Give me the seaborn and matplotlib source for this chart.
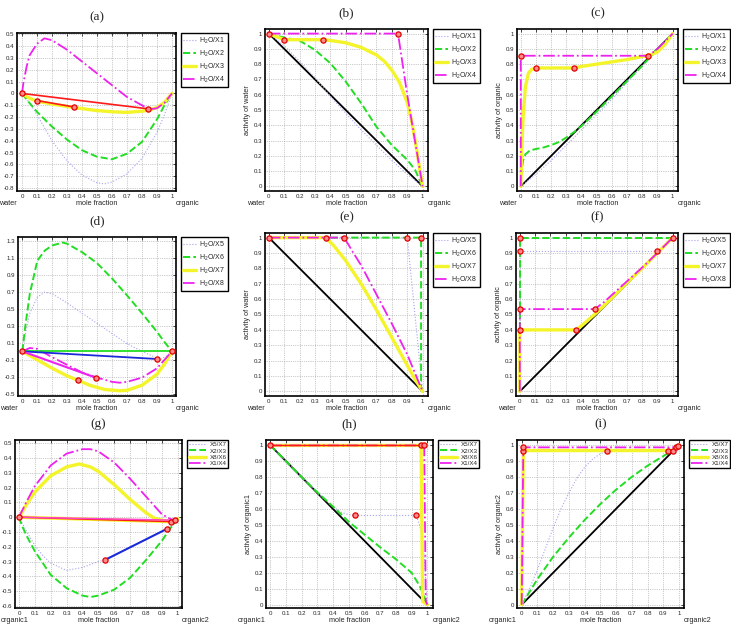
import matplotlib
matplotlib.use("Agg")
import matplotlib.pyplot as plt
import numpy as np
import pandas as pd
import seaborn as sns

FIG_W, FIG_H = 731, 635

# ---------------- data (x = mole fraction) ----------------
# (a) water / organic, Gibbs energy of mixing
A_X1 = [(0, 0), (0.05, -0.08), (0.1, -0.18), (0.15, -0.29), (0.2, -0.4), (0.3, -0.57), (0.4, -0.69),
        (0.5, -0.755), (0.55, -0.765), (0.6, -0.75), (0.7, -0.68), (0.8, -0.55), (0.9, -0.33),
        (0.95, -0.18), (1, 0)]
A_X2 = [(0, 0), (0.05, -0.08), (0.1, -0.155), (0.2, -0.28), (0.3, -0.39), (0.4, -0.48), (0.5, -0.535),
        (0.6, -0.557), (0.7, -0.51), (0.8, -0.41), (0.9, -0.22), (0.95, -0.1), (1, 0)]
A_X3 = [(0, 0), (0.05, -0.04), (0.1, -0.065), (0.2, -0.09), (0.35, -0.12), (0.5, -0.145), (0.6, -0.155),
        (0.7, -0.16), (0.8, -0.15), (0.85, -0.14), (0.9, -0.12), (0.95, -0.075), (1, 0)]
A_X4 = [(0, 0), (0.01, 0.09), (0.03, 0.22), (0.05, 0.32), (0.1, 0.42), (0.15, 0.466), (0.2, 0.45),
        (0.3, 0.37), (0.4, 0.27), (0.5, 0.17), (0.6, 0.07), (0.7, -0.03), (0.8, -0.1), (0.85, -0.135),
        (0.9, -0.125), (0.95, -0.08), (1, 0)]
A_TIES = [[(0, 0), (0.84, -0.13)], [(0.1, -0.06), (0.35, -0.115)]]
A_MARKS = [(0, 0), (0.84, -0.13), (0.1, -0.06), (0.35, -0.115)]

# (b) activity of water
B_X1 = [(0, 1), (0.1, 0.92), (0.2, 0.82), (0.3, 0.71), (0.4, 0.59), (0.5, 0.48), (0.6, 0.37),
        (0.7, 0.27), (0.8, 0.17), (0.9, 0.08), (1, 0)]
B_X2 = [(0, 1), (0.1, 0.974), (0.2, 0.954), (0.3, 0.893), (0.4, 0.806), (0.5, 0.686), (0.6, 0.545),
        (0.7, 0.39), (0.8, 0.27), (0.9, 0.174), (0.95, 0.11), (1, 0)]
B_X3 = [(0, 1), (0.1, 0.96), (0.35, 0.96), (0.4, 0.955), (0.5, 0.94), (0.6, 0.91), (0.7, 0.86),
        (0.75, 0.82), (0.8, 0.76), (0.85, 0.68), (0.9, 0.55), (0.93, 0.42), (0.96, 0.25),
        (0.98, 0.12), (1, 0)]
B_X4 = [(0, 1), (0.84, 1), (0.87, 0.8), (0.9, 0.6), (0.93, 0.42), (0.96, 0.24), (0.98, 0.12), (1, 0)]
B_MARKS = [(0, 1), (0.1, 0.96), (0.35, 0.96), (0.84, 1)]

# (c) activity of organic
C_X1 = [(0, 0), (0.1, 0.08), (0.2, 0.17), (0.3, 0.27), (0.4, 0.37), (0.5, 0.47), (0.6, 0.57),
        (0.7, 0.68), (0.8, 0.79), (0.9, 0.89), (1, 1)]
C_X2 = [(0, 0), (0.005, 0.1), (0.015, 0.17), (0.03, 0.21), (0.06, 0.235), (0.1, 0.245), (0.15, 0.255),
        (0.2, 0.27), (0.25, 0.29), (0.3, 0.32), (0.35, 0.355), (0.4, 0.395), (0.5, 0.49), (0.6, 0.59),
        (0.7, 0.69), (0.8, 0.79), (0.9, 0.9), (1, 1)]
C_X3 = [(0, 0), (0.005, 0.2), (0.015, 0.45), (0.03, 0.65), (0.05, 0.74), (0.07, 0.765), (0.1, 0.775),
        (0.35, 0.775), (0.4, 0.785), (0.5, 0.8), (0.6, 0.815), (0.7, 0.83), (0.8, 0.85), (0.85, 0.86),
        (0.9, 0.88), (0.95, 0.93), (1, 1)]
C_X4 = [(0, 0), (0, 0.855), (0.84, 0.855), (0.9, 0.9), (1, 1)]
C_MARKS = [(0, 0.855), (0.84, 0.855), (0.1, 0.775), (0.35, 0.775)]

# (d) water / organic, second set
D_X5 = [(0, 0), (0.02, 0.2), (0.05, 0.45), (0.1, 0.64), (0.15, 0.7), (0.2, 0.68), (0.3, 0.57),
        (0.4, 0.45), (0.5, 0.33), (0.6, 0.21), (0.7, 0.09), (0.8, 0.0), (0.9, -0.08), (0.93, -0.09),
        (0.96, -0.06), (1, 0)]
D_X6 = [(0, 0), (0.02, 0.3), (0.05, 0.68), (0.1, 1.07), (0.15, 1.19), (0.2, 1.25), (0.27, 1.285),
        (0.3, 1.27), (0.4, 1.17), (0.5, 1.04), (0.6, 0.86), (0.7, 0.66), (0.8, 0.45), (0.9, 0.23),
        (0.95, 0.11), (1, 0)]
D_X7 = [(0, 0), (0.1, -0.1), (0.2, -0.2), (0.3, -0.29), (0.37, -0.34), (0.45, -0.4), (0.55, -0.45),
        (0.65, -0.465), (0.7, -0.46), (0.8, -0.4), (0.9, -0.27), (0.95, -0.15), (1, 0)]
D_X8 = [(0, 0), (0.05, 0.04), (0.1, 0.03), (0.2, -0.07), (0.3, -0.16), (0.4, -0.25), (0.5, -0.31),
        (0.6, -0.36), (0.65, -0.37), (0.7, -0.36), (0.8, -0.31), (0.9, -0.2), (0.95, -0.1), (1, 0)]
D_TIE_GREEN = [(0, 0), (1, 0)]
D_TIE_BLUE = [(0, 0), (0.9, -0.09)]
D_TIE_MAGENTA = [(0, 0), (0.49, -0.31)]
D_MARKS = [(0, 0), (1, 0), (0.9, -0.09), (0.49, -0.31), (0.37, -0.34)]

# (e) activity of water
E_X5 = [(0, 1), (0.9, 1), (0.93, 0.7), (0.96, 0.4), (0.98, 0.2), (1, 0)]
E_X6 = [(0, 1), (0.99, 1), (0.99, 0.03), (1, 0)]
E_X7 = [(0, 1), (0.37, 1), (0.42, 0.95), (0.5, 0.85), (0.6, 0.7), (0.7, 0.53), (0.8, 0.35),
        (0.9, 0.17), (0.95, 0.08), (1, 0)]
E_X8 = [(0, 1), (0.49, 1), (0.55, 0.9), (0.6, 0.82), (0.7, 0.63), (0.8, 0.44), (0.9, 0.24),
        (0.95, 0.12), (1, 0)]
E_MARKS = [(0, 1), (0.37, 1), (0.49, 1), (0.9, 1), (0.99, 1)]

# (f) activity of organic
F_X5 = [(0, 0), (0, 0.91), (0.9, 0.91), (1, 1)]
F_X6 = [(0, 0), (0, 1), (1, 1)]
F_X7 = [(0, 0), (0, 0.4), (0.37, 0.4), (0.42, 0.44), (0.5, 0.51), (0.6, 0.605), (0.7, 0.705),
        (0.8, 0.8), (0.9, 0.9), (1, 1)]
F_X8 = [(0, 0), (0, 0.535), (0.49, 0.535), (0.55, 0.58), (0.6, 0.625), (0.65, 0.67), (0.7, 0.715),
        (0.8, 0.805), (0.9, 0.9), (1, 1)]
F_MARKS = [(0, 1), (0, 0.91), (0, 0.535), (0, 0.4), (0.37, 0.4), (0.49, 0.535), (0.9, 0.91), (1, 1)]

# (g) organic1 / organic2
G_X5X7_LEFT = [(0, 0), (0.05, -0.1), (0.1, -0.19), (0.15, -0.26), (0.2, -0.31), (0.3, -0.36),
               (0.4, -0.34), (0.5, -0.3), (0.54, -0.29)]
G_X5X7_RIGHT = [(0.93, -0.08), (0.96, -0.04), (0.98, -0.02), (1, -0.01)]
G_X2X3 = [(0, 0), (0.02, -0.06), (0.05, -0.13), (0.1, -0.23), (0.2, -0.39), (0.3, -0.48), (0.4, -0.53),
          (0.45, -0.54), (0.5, -0.53), (0.6, -0.49), (0.7, -0.41), (0.8, -0.29), (0.9, -0.16),
          (0.95, -0.08), (1, -0.01)]
G_X8X6 = [(0, 0), (0.05, 0.09), (0.1, 0.17), (0.2, 0.28), (0.3, 0.34), (0.38, 0.36), (0.45, 0.34),
          (0.5, 0.31), (0.6, 0.22), (0.7, 0.12), (0.8, 0.03), (0.85, -0.005), (0.9, -0.02),
          (0.96, -0.03), (1, -0.01)]
G_X1X4 = [(0, 0), (0.05, 0.11), (0.1, 0.21), (0.2, 0.35), (0.3, 0.43), (0.4, 0.46), (0.45, 0.46),
          (0.5, 0.445), (0.6, 0.37), (0.7, 0.26), (0.8, 0.14), (0.9, 0.02), (0.95, -0.01),
          (0.98, -0.02), (1, -0.01)]
G_TIE_YELLOW = [(0, 0), (0.96, -0.03)]
G_TIE_RED = [(0, 0), (0.96, -0.03)]
G_TIE_MAGENTA = [(0, 0), (0.98, -0.02)]
G_TIE_BLUE = [(0.54, -0.29), (0.93, -0.08)]
G_MARKS = [(0, 0), (0.54, -0.29), (0.93, -0.08), (0.96, -0.03), (0.98, -0.02)]

# (h) activity of organic1
H_X5X7 = [(0, 1), (0.1, 0.9), (0.2, 0.8), (0.3, 0.7), (0.4, 0.615), (0.45, 0.58), (0.5, 0.565),
          (0.54, 0.56), (0.93, 0.56), (0.95, 0.5), (0.97, 0.4), (0.98, 0.3), (0.99, 0.15), (1, 0)]
H_X2X3 = [(0, 1), (0.1, 0.9), (0.2, 0.8), (0.3, 0.705), (0.4, 0.615), (0.5, 0.52), (0.6, 0.44),
          (0.7, 0.36), (0.8, 0.285), (0.9, 0.2), (0.95, 0.12), (0.98, 0.05), (1, 0)]
H_X8X6 = [(0, 1), (0.96, 1), (0.965, 0.5), (0.97, 0.02), (1, 0)]
H_X1X4 = [(0, 1), (0.98, 1), (0.985, 0.5), (0.99, 0.02), (1, 0)]
H_TIE_RED = [(0, 1), (0.98, 1)]
H_MARKS = [(0, 1), (0.96, 1), (0.98, 1), (0.54, 0.56), (0.93, 0.56)]

# (i) activity of organic2
I_X5X7 = [(0, 0), (0.05, 0.1), (0.1, 0.22), (0.15, 0.35), (0.2, 0.48), (0.25, 0.6), (0.3, 0.7),
          (0.35, 0.79), (0.4, 0.86), (0.45, 0.91), (0.5, 0.945), (0.54, 0.96), (0.93, 0.96),
          (0.97, 0.975), (1, 1)]
I_X2X3 = [(0, 0), (0.05, 0.08), (0.1, 0.16), (0.2, 0.3), (0.3, 0.42), (0.4, 0.53), (0.5, 0.63),
          (0.6, 0.72), (0.7, 0.8), (0.8, 0.87), (0.9, 0.93), (0.95, 0.96), (1, 1)]
I_X8X6 = [(0, 0), (0.01, 0.965), (0.96, 0.965), (1, 1)]
I_X1X4 = [(0, 0), (0.01, 0.985), (0.98, 0.985), (1, 1)]
I_MARKS = [(0.01, 0.965), (0.01, 0.985), (0.54, 0.96), (0.93, 0.96), (0.96, 0.965), (0.98, 0.985),
           (0.995, 0.995)]

DIAG_DOWN = [(0, 1), (1, 0)]
DIAG_UP = [(0, 0), (1, 1)]

LEG_1_4 = ["H$_2$O/X1", "H$_2$O/X2", "H$_2$O/X3", "H$_2$O/X4"]
LEG_5_8 = ["H$_2$O/X5", "H$_2$O/X6", "H$_2$O/X7", "H$_2$O/X8"]
LEG_MIX = ["X5/X7", "X2/X3", "X8/X6", "X1/X4"]

X_TICKS = [0, 0.1, 0.2, 0.3, 0.4, 0.5, 0.6, 0.7, 0.8, 0.9, 1]
UNIT_TICKS = X_TICKS
A_TICKS = [-0.8, -0.7, -0.6, -0.5, -0.4, -0.3, -0.2, -0.1, 0, 0.1, 0.2, 0.3, 0.4, 0.5]
D_TICKS = [-0.5, -0.3, -0.1, 0.1, 0.3, 0.5, 0.7, 0.9, 1.1, 1.3]
G_TICKS = [-0.6, -0.5, -0.4, -0.3, -0.2, -0.1, 0, 0.1, 0.2, 0.3, 0.4, 0.5]

# ---------------- styles ----------------
S1 = dict(color="#a3a3ee", linestyle=":", linewidth=0.8)
S2 = dict(color="#22dd22", linestyle="--", linewidth=1.4)
S3 = dict(color="#f4f42a", linestyle="-", linewidth=2.4)
S4 = dict(color="#ee22ee", linestyle="-.", linewidth=1.3)
CURVE_STYLES = [S1, S2, S3, S4]
RED = "#ff1a1a"
BLUE = "#1a2ad8"

sns.set_style("white")
plt.rcParams["font.family"] = ["Liberation Sans", "DejaVu Sans"]
plt.rcParams["mathtext.fontset"] = "custom"
plt.rcParams["mathtext.rm"] = "Liberation Sans"

ROW12_LEG = dict(fontsize=5.0, handlelength=1.8, labelspacing=0.4, borderpad=0.35)
ROW3_LEG = dict(fontsize=4.5, handlelength=2.8, labelspacing=0.15, borderpad=0.3)

PANELS = [
    dict(tag="(a)", rect=(17, 33, 176, 191), curves=[A_X1, A_X2, A_X3, A_X4], legend=LEG_1_4,
         ties=[(A_TIES[0], RED, 1.2), (A_TIES[1], RED, 1.2)], marks=A_MARKS, diag=None,
         xlim=(-0.033, 1.027), ylim=(-0.825, 0.511), yticks=A_TICKS, ylabel="",
         ends=("water", "organic"), leg=ROW12_LEG),
    dict(tag="(b)", rect=(265, 29, 428, 191), curves=[B_X1, B_X2, B_X3, B_X4], legend=LEG_1_4,
         ties=[], marks=B_MARKS, diag=DIAG_DOWN,
         xlim=(-0.025, 1.035), ylim=(-0.03, 1.03), yticks=UNIT_TICKS, ylabel="activity of water",
         ends=("water", "organic"), leg=ROW12_LEG),
    dict(tag="(c)", rect=(517, 29, 678, 191), curves=[C_X1, C_X2, C_X3, C_X4], legend=LEG_1_4,
         ties=[], marks=C_MARKS, diag=DIAG_UP,
         xlim=(-0.025, 1.035), ylim=(-0.03, 1.03), yticks=UNIT_TICKS, ylabel="activity of organic",
         ends=("water", "organic"), leg=ROW12_LEG),
    dict(tag="(d)", rect=(18, 237, 176, 396), curves=[D_X5, D_X6, D_X7, D_X8], legend=LEG_5_8,
         ties=[(D_TIE_GREEN, "#22dd22", 1.3), (D_TIE_BLUE, BLUE, 1.3), (D_TIE_MAGENTA, "#ee22ee", 1.5)],
         marks=D_MARKS, diag=None,
         xlim=(-0.029, 1.027), ylim=(-0.527, 1.35), yticks=D_TICKS, ylabel="",
         ends=("water", "organic"), leg=ROW12_LEG),
    dict(tag="(e)", rect=(265, 233, 428, 396), curves=[E_X5, E_X6, E_X7, E_X8], legend=LEG_5_8,
         ties=[], marks=E_MARKS, diag=DIAG_DOWN,
         xlim=(-0.025, 1.035), ylim=(-0.03, 1.03), yticks=UNIT_TICKS, ylabel="activity of water",
         ends=("water", "organic"), leg=ROW12_LEG),
    dict(tag="(f)", rect=(516, 233, 678, 396), curves=[F_X5, F_X6, F_X7, F_X8], legend=LEG_5_8,
         ties=[], marks=F_MARKS, diag=DIAG_UP,
         xlim=(-0.025, 1.035), ylim=(-0.03, 1.03), yticks=UNIT_TICKS, ylabel="activity of organic",
         ends=("water", "organic"), leg=ROW12_LEG),
    dict(tag="(g)", rect=(15, 440, 182, 608), curves=[G_X5X7_LEFT, G_X2X3, G_X8X6, G_X1X4], legend=LEG_MIX,
         extra=[(G_X5X7_RIGHT, S1)],
         ties=[(G_TIE_YELLOW, "#f4f42a", 2.4), (G_TIE_RED, RED, 1.1), (G_TIE_MAGENTA, "#ff44cc", 1.1),
               (G_TIE_BLUE, BLUE, 1.5)],
         marks=G_MARKS, diag=None,
         xlim=(-0.025, 1.027), ylim=(-0.614, 0.522), yticks=G_TICKS, ylabel="",
         ends=("organic1", "organic2"), leg=ROW3_LEG),
    dict(tag="(h)", rect=(266, 440, 433, 608), curves=[H_X5X7, H_X2X3, H_X8X6, H_X1X4], legend=LEG_MIX,
         ties=[(H_TIE_RED, RED, 1.0)], marks=H_MARKS, diag=DIAG_DOWN,
         xlim=(-0.028, 1.036), ylim=(-0.021, 1.034), yticks=UNIT_TICKS, ylabel="activity of organic1",
         ends=("organic1", "organic2"), leg=ROW3_LEG),
    dict(tag="(i)", rect=(517, 440, 684, 608), curves=[I_X5X7, I_X2X3, I_X8X6, I_X1X4], legend=LEG_MIX,
         ties=[], marks=I_MARKS, diag=DIAG_UP,
         xlim=(-0.03, 1.032), ylim=(-0.021, 1.031), yticks=UNIT_TICKS, ylabel="activity of organic2",
         ends=("organic1", "organic2"), leg=ROW3_LEG),
]


def tick_text(v):
    s = f"{v:.1f}"
    if s in ("0.0", "-0.0"):
        return "0"
    if s == "1.0":
        return "1"
    return s


def frame(pts):
    return pd.DataFrame(pts, columns=["x", "y"])


def line(ax, pts, **kw):
    sns.lineplot(data=frame(pts), x="x", y="y", sort=False, estimator=None, legend=False,
                 ax=ax, **kw)
    return ax.lines[-1]


fig = plt.figure(figsize=(FIG_W / 100, FIG_H / 100), dpi=100)

for p in PANELS:
    l, t, r, b = p["rect"]
    ax = fig.add_axes([l / FIG_W, 1 - b / FIG_H, (r - l) / FIG_W, (b - t) / FIG_H])

    if p["diag"] is not None:
        line(ax, p["diag"], color="black", linewidth=1.3, zorder=2)

    handles = []
    for pts, style, lab in zip(p["curves"], CURVE_STYLES, p["legend"]):
        handles.append(line(ax, pts, zorder=3, **style))
        handles[-1].set_label(lab)
    for pts, style in p.get("extra", []):
        line(ax, pts, zorder=3, **style)

    for pts, col, lw in p["ties"]:
        line(ax, pts, color=col, linewidth=lw, zorder=4)

    mk = frame(p["marks"])
    sns.scatterplot(data=mk, x="x", y="y", ax=ax, s=14, color="#ff8a8a", edgecolor="#e00000",
                    linewidth=0.9, zorder=6, legend=False, clip_on=False)

    ax.set_xlim(*p["xlim"])
    ax.set_ylim(*p["ylim"])
    ax.set_xticks(X_TICKS)
    ax.set_xticklabels([tick_text(v) for v in X_TICKS])
    ax.set_yticks(p["yticks"])
    ax.set_yticklabels([tick_text(v) for v in p["yticks"]])
    ax.tick_params(direction="in", length=2, width=0.6, labelsize=4.4, pad=2,
                   top=True, right=True)
    ax.grid(True, linestyle=":", color="#9a9a9a", linewidth=0.5)
    for sp in ax.spines.values():
        sp.set_color("black")
        sp.set_linewidth(1.2)

    ax.set_xlabel("mole fraction", fontsize=5.2, labelpad=1)
    ax.set_ylabel(p["ylabel"], fontsize=5.2, labelpad=2)
    ax.set_title(p["tag"], fontsize=9.5, family=["Liberation Serif", "DejaVu Serif"], pad=9)

    left_end, right_end = p["ends"]
    lx = 0.0
    lha = "right"
    if l < 40 and left_end == "organic1":
        # keep the label inside the figure's left edge
        lx, lha = -(l - 1) / (r - l), "left"
    ax.annotate(left_end, xy=(lx, 0), xycoords="axes fraction", xytext=(0, -6.5),
                textcoords="offset points", ha=lha, va="top", fontsize=5.2)
    ax.annotate(right_end, xy=(1, 0), xycoords="axes fraction", xytext=(0, -6.5),
                textcoords="offset points", ha="left", va="top", fontsize=5.2)

    w_px = r - l
    leg = ax.legend(handles=handles, loc="upper left", bbox_to_anchor=(1 + 5 / w_px, 1.0),
                    borderaxespad=0, frameon=True, fancybox=False, edgecolor="black",
                    framealpha=1, handletextpad=0.5, **p["leg"])
    leg.get_frame().set_linewidth(1.0)

fig.savefig("out.png", dpi=100)
